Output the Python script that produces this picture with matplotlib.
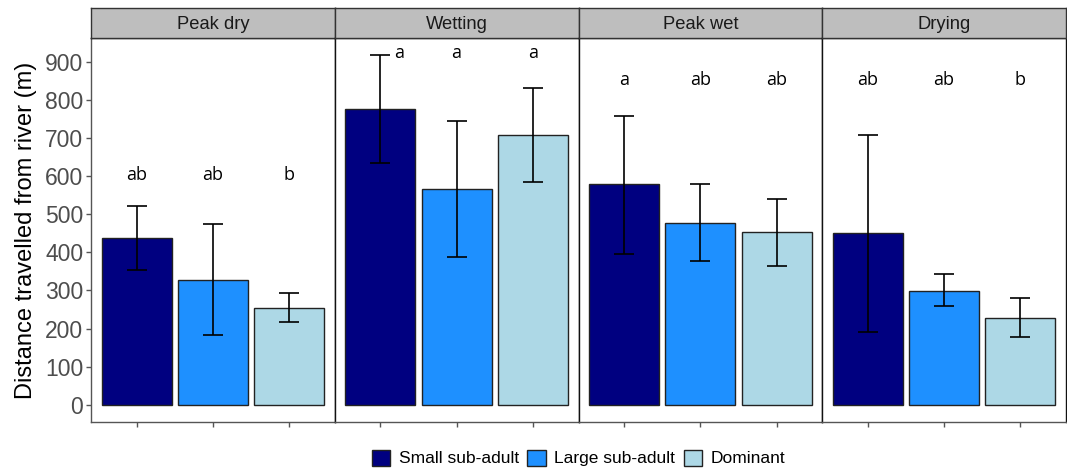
import matplotlib
matplotlib.use("Agg")
import matplotlib.pyplot as plt
from matplotlib.patches import Patch
import numpy as np

plt.rcParams['font.family'] = ['Liberation Sans', 'DejaVu Sans']

# ---- data ----
periods = ["Peak dry", "Wetting", "Peak wet", "Drying"]
groups = ["Small sub-adult", "Large sub-adult", "Dominant"]
means = [
    [438, 328, 254],   # Peak dry
    [777, 567, 708],   # Wetting
    [580, 477, 453],   # Peak wet
    [450, 299, 228],   # Drying
]
err_upper = [
    [522, 474, 293],
    [917, 744, 832],
    [758, 578, 539],
    [708, 342, 281],
]
err_lower = [
    [354, 184, 216],
    [635, 389, 584],
    [396, 376, 364],
    [190, 258, 177],
]
letters = [
    ["ab", "ab", "b"],
    ["a", "a", "a"],
    ["a", "ab", "ab"],
    ["ab", "ab", "b"],
]
letter_y = [590, 909, 839, 839]
y_ticks = [0, 100, 200, 300, 400, 500, 600, 700, 800, 900]

colors = ["#000080", "#1E90FF", "#ADD8E6"]
edge = "#222222"

W, H = 1067, 469
fig = plt.figure(figsize=(W / 100, H / 100), dpi=100)

left_px, right_px = 91, 1066
top_px, bottom_px = 38, 422
strip_top = 8
pw = (right_px - left_px) / 4

for i, per in enumerate(periods):
    l = (left_px + i * pw) / W
    ax = fig.add_axes([l, 1 - bottom_px / H, pw / W, (bottom_px - top_px) / H])
    x = np.arange(1, 4)
    err = [np.array(means[i]) - np.array(err_lower[i]),
           np.array(err_upper[i]) - np.array(means[i])]
    ax.bar(x, means[i], width=0.92, color=colors, edgecolor=edge, linewidth=1.0, zorder=2)
    ax.errorbar(x, means[i], yerr=err, fmt='none', ecolor='black',
                elinewidth=1.2, capsize=7.5, capthick=1.2, zorder=3)
    for j in range(3):
        dx = 0.25 if (i == 1 and j == 0) else 0.0
        ax.text(x[j] + dx, letter_y[i], letters[i][j], ha='center', va='baseline',
                fontsize=13, family=['Open Sans', 'DejaVu Sans'], color='black')
    ax.set_xlim(0.4, 3.6)
    ax.set_ylim(-45, 962)
    ax.set_xticks(x)
    ax.set_xticklabels([])
    ax.tick_params(axis='x', length=3.5, width=1, color='#555555', direction='out')
    if i == 0:
        ax.set_yticks(y_ticks)
        ax.set_yticklabels([str(t) for t in y_ticks], fontsize=16.5, color='#4D4D4D')
        ax.tick_params(axis='y', length=3.5, width=1, color='#555555', direction='out', pad=2)
        ax.set_ylabel("Distance travelled from river (m)", fontsize=17, color='black', labelpad=6)
    else:
        ax.set_yticks([])
    for s in ['left', 'bottom']:
        ax.spines[s].set_color('#555555')
        ax.spines[s].set_linewidth(1.0)
    for s in ['top', 'right']:
        ax.spines[s].set_color('#111111')
        ax.spines[s].set_linewidth(1.0)
    if i > 0:
        ax.spines['left'].set_color('#111111')

    # strip
    sax = fig.add_axes([l, 1 - top_px / H, pw / W, (top_px - strip_top) / H])
    sax.set_facecolor('#BEBEBE')
    sax.set_xticks([])
    sax.set_yticks([])
    for s in sax.spines.values():
        s.set_color('#333333')
        s.set_linewidth(1.0)
    sax.text(0.5, 0.45, per, ha='center', va='center', fontsize=13.2,
             color='#1A1A1A', transform=sax.transAxes)

handles = [Patch(facecolor=c, edgecolor=edge, linewidth=1.0) for c in colors]
fig.legend(handles, groups, loc='center', bbox_to_anchor=((left_px + right_px) / 2 / W, 1 - 458 / H),
           ncol=3, frameon=False, fontsize=12.5, handlelength=1.05, handleheight=1.05,
           handletextpad=0.5, columnspacing=0.5, borderaxespad=0, borderpad=0)

fig.savefig("out.png", dpi=100)
